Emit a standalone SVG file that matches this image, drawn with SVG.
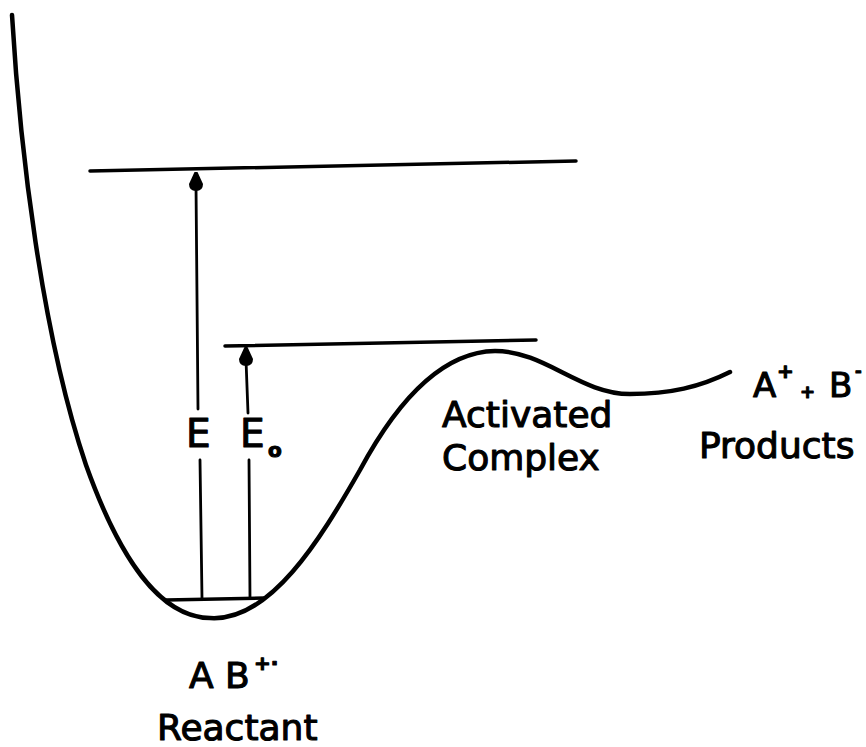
<svg xmlns="http://www.w3.org/2000/svg" width="866" height="747" viewBox="0 0 866 747">
<style>
.curve{fill:none;stroke:#000;stroke-width:4.5;stroke-linecap:round;stroke-linejoin:round}
.level{fill:none;stroke:#000;stroke-width:3.5;stroke-linecap:round}
.arrow{fill:none;stroke:#000;stroke-width:2.8;stroke-linecap:round}
.lbl{font-family:"DejaVu Sans","Liberation Sans",sans-serif;font-size:36px;fill:#000;stroke:#000;stroke-width:1.1;stroke-linejoin:round}
</style>
<defs>
<path id="ah" d="M-1.5,0 L1.5,0 L7,12 Q7,19 0,19 Q-7,19 -7,12 Z" fill="#000"/>
</defs>
<rect width="866" height="747" fill="#fff"/>
<g id="potential-curve">
<path class="curve" d="M12,15 C20,150 42,335 86,465 C120,560 160,617 210,618 C270,622 320,540 360,470 C395,405 440,352 495,351 C545,351 580,394 630,394 C670,394 700,387 730,372"/>
</g>
<g id="level-E">
<line class="level" x1="90" y1="171" x2="576" y2="161"/>
</g>
<g id="level-E0">
<line class="level" x1="225" y1="346" x2="536" y2="340"/>
</g>
<g id="level-ground">
<line class="level" x1="166" y1="600" x2="264" y2="598"/>
</g>
<g id="connectors">
<path class="arrow" d="M200,460 L202,598"/>
<path class="arrow" d="M198,409 L196,185"/>
<use href="#ah" x="196" y="172"/>
<path class="arrow" d="M249,460 L250,598"/>
<path class="arrow" d="M248,413 L246,360"/>
<use href="#ah" x="246" y="347"/>
</g>
<g id="label-E">
<text class="lbl" x="186" y="447" style="font-size:39px">E</text>
</g>
<g id="label-E0">
<text class="lbl" x="240" y="447" style="font-size:39px">E</text>
<text class="lbl" x="268" y="457" style="font-size:20px;font-weight:bold">o</text>
</g>
<g id="label-activated">
<text class="lbl" x="442" y="427">Activated</text>
<text class="lbl" x="442" y="470">Complex</text>
</g>
<g id="label-products">
<text class="lbl" x="753" y="397" style="font-size:34px">A</text>
<text class="lbl" x="777" y="378" style="font-size:20px;font-weight:bold">+</text>
<text class="lbl" x="800" y="398" style="font-size:18px;font-weight:bold">+</text>
<text class="lbl" x="829" y="397" style="font-size:34px">B</text>
<text class="lbl" x="855" y="376" style="font-size:16px;font-weight:bold">-</text>
<text class="lbl" x="699" y="458">Products</text>
</g>
<g id="label-reactant">
<text class="lbl" x="189" y="688">A B</text>
<text class="lbl" x="254" y="670" style="font-size:20px;font-weight:bold">+·</text>
<text class="lbl" x="157" y="740">Reactant</text>
</g>
</svg>
